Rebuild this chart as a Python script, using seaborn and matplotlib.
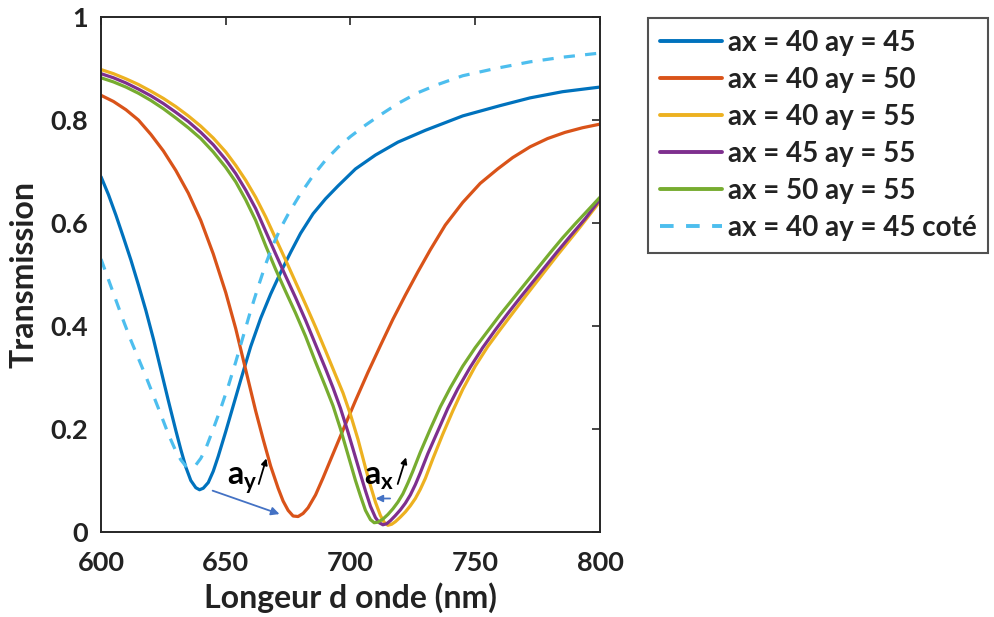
import matplotlib
matplotlib.use("Agg")
import matplotlib.pyplot as plt
import seaborn as sns
import pandas as pd

# ---- data ----
labels = ["ax = 40 ay = 45", "ax = 40 ay = 50", "ax = 40 ay = 55",
          "ax = 45 ay = 55", "ax = 50 ay = 55", "ax = 40 ay = 45 coté"]

wl_4045 = [600, 603, 606, 609, 612, 615, 618, 621, 624, 627, 630, 632, 634, 636, 638, 639.5,
           641, 643, 645, 647, 650, 653, 656, 660, 664, 668, 672, 676, 680, 685, 690, 695,
           702, 710, 719, 730, 745, 760, 772, 785, 800]
t_4045 = [0.69, 0.655, 0.615, 0.572, 0.528, 0.48, 0.43, 0.375, 0.315, 0.255, 0.197, 0.16,
          0.126, 0.1, 0.086, 0.082, 0.085, 0.096, 0.118, 0.147, 0.195, 0.245, 0.295, 0.36,
          0.415, 0.462, 0.504, 0.543, 0.58, 0.618, 0.647, 0.672, 0.705, 0.732, 0.757, 0.78,
          0.808, 0.828, 0.843, 0.855, 0.864]

wl_4050 = [600, 605, 610, 615, 620, 625, 630, 635, 640, 645, 650, 654, 658, 662, 665, 668,
           671, 673, 675, 677, 679, 681, 683, 686, 689, 692, 697, 702, 707, 712, 717, 722,
           727, 732, 738, 745, 752, 759, 765, 772, 779, 786, 793, 800]
t_4050 = [0.848, 0.836, 0.82, 0.80, 0.772, 0.74, 0.702, 0.658, 0.605, 0.54, 0.465, 0.395,
          0.315, 0.235, 0.18, 0.128, 0.085, 0.06, 0.042, 0.031, 0.03, 0.036, 0.047, 0.072,
          0.105, 0.14, 0.198, 0.255, 0.31, 0.362, 0.413, 0.46, 0.505, 0.548, 0.596, 0.64,
          0.677, 0.705, 0.727, 0.748, 0.764, 0.776, 0.785, 0.792]

wl_4055 = [600, 605, 610, 615, 620, 625, 630, 635, 640, 645, 650, 654, 658, 662, 666, 670,
           674, 678, 682, 686, 690, 694, 697, 700, 703, 706, 708, 710, 712, 713.5, 715, 716.5,
           718, 720, 722, 724, 726, 728, 730, 733, 737, 741, 745, 750, 755, 760, 765, 770,
           774, 778, 783, 787, 792, 796, 800]
t_4055 = [0.898, 0.89, 0.88, 0.869, 0.856, 0.842, 0.826, 0.808, 0.788, 0.765, 0.738, 0.712,
          0.683, 0.65, 0.612, 0.57, 0.528, 0.485, 0.442, 0.398, 0.352, 0.305, 0.27, 0.228,
          0.18, 0.125, 0.09, 0.058, 0.032, 0.019, 0.013, 0.015, 0.02, 0.029, 0.039, 0.051,
          0.065, 0.083, 0.104, 0.142, 0.19, 0.235, 0.277, 0.322, 0.36, 0.393, 0.425, 0.457,
          0.482, 0.507, 0.538, 0.562, 0.592, 0.617, 0.642]

wl_4555 = [600, 605, 610, 615, 620, 625, 630, 635, 640, 645, 650, 654, 658, 662, 666, 670,
           674, 678, 682, 686, 690, 693, 696, 699, 702, 704, 706, 708, 710, 711.5, 713, 714.5,
           716, 718, 720, 722, 724, 726, 728, 731, 735, 739, 743, 748, 753, 758, 763, 768,
           773, 778, 783, 788, 794, 800]
t_4555 = [0.89, 0.882, 0.872, 0.86, 0.847, 0.832, 0.815, 0.797, 0.776, 0.752, 0.723, 0.696,
          0.664, 0.628, 0.584, 0.54, 0.497, 0.455, 0.411, 0.364, 0.317, 0.28, 0.24, 0.194,
          0.145, 0.112, 0.08, 0.05, 0.028, 0.018, 0.014, 0.016, 0.022, 0.032, 0.043, 0.056,
          0.072, 0.092, 0.115, 0.152, 0.196, 0.24, 0.278, 0.32, 0.358, 0.392, 0.424, 0.455,
          0.485, 0.515, 0.545, 0.574, 0.608, 0.646]

wl_5055 = [600, 605, 610, 615, 620, 625, 630, 635, 640, 645, 650, 654, 658, 662, 666, 670,
           674, 678, 682, 686, 690, 693, 696, 699, 702, 704, 706, 708, 709.5, 711, 713, 715,
           717, 719, 721, 723, 725, 728, 732, 736, 740, 745, 750, 755, 760, 765, 770, 775,
           780, 785, 790, 795, 800]
t_5055 = [0.882, 0.874, 0.864, 0.852, 0.838, 0.822, 0.804, 0.785, 0.764, 0.738, 0.708, 0.68,
          0.645, 0.605, 0.556, 0.51, 0.467, 0.425, 0.38, 0.33, 0.282, 0.245, 0.2, 0.15, 0.1,
          0.07, 0.042, 0.024, 0.018, 0.019, 0.025, 0.034, 0.045, 0.058, 0.074, 0.095, 0.118,
          0.155, 0.2, 0.243, 0.28, 0.322, 0.358, 0.39, 0.422, 0.452, 0.482, 0.512, 0.542,
          0.571, 0.598, 0.624, 0.65]

wl_cote = [600, 603, 606, 609, 612, 615, 618, 621, 624, 627, 630, 632, 634, 636, 638, 640,
           642, 645, 648, 651, 654, 657, 660, 663, 666, 669, 672, 675, 680, 685, 690, 695,
           700, 706, 712, 719, 727, 735, 745, 758, 772, 785, 800]
t_cote = [0.53, 0.49, 0.45, 0.41, 0.372, 0.337, 0.302, 0.265, 0.228, 0.19, 0.157, 0.14,
          0.128, 0.125, 0.13, 0.143, 0.162, 0.2, 0.24, 0.283, 0.33, 0.38, 0.43, 0.476, 0.52,
          0.558, 0.59, 0.617, 0.657, 0.692, 0.722, 0.747, 0.768, 0.79, 0.81, 0.832, 0.853,
          0.869, 0.886, 0.9, 0.913, 0.922, 0.93]

xticks = [600, 650, 700, 750, 800]
yticks = [0, 0.2, 0.4, 0.6, 0.8, 1]
ytick_labels = ["0", "0.2", "0.4", "0.6", "0.8", "1"]

colors = ["#0072BD", "#D95319", "#EDB120", "#7E2F8E", "#77AC30", "#4DBEEE"]
series = [(wl_4045, t_4045), (wl_4050, t_4050), (wl_4055, t_4055),
          (wl_4555, t_4555), (wl_5055, t_5055), (wl_cote, t_cote)]

sns.set_theme(style="white")
plt.rcParams["font.family"] = ["Lato", "DejaVu Sans"]
plt.rcParams["mathtext.fontset"] = "custom"
plt.rcParams["mathtext.bf"] = "Lato:bold"
plt.rcParams["mathtext.rm"] = "Lato"

txt = "#222222"
fig = plt.figure(figsize=(9.94, 6.17), dpi=100)
ax = fig.add_axes([0.1016, 0.1378, 0.502, 0.8346])

for i, ((wl, t), lab, c) in enumerate(zip(series, labels, colors)):
    df = pd.DataFrame({"wl": wl, "T": t})
    sns.lineplot(data=df, x="wl", y="T", ax=ax, color=c, lw=2.3, label=lab,
                 linestyle="--" if i == 5 else "-", sort=False, estimator=None)
    ln = ax.lines[-1]
    ln.set_solid_joinstyle("round")
    if i == 5:
        ln.set_dashes((3.5, 3.2))

ax.set_xlim(600, 800)
ax.set_ylim(0, 1)
ax.set_xticks(xticks)
ax.set_yticks(yticks)
ax.set_yticklabels(ytick_labels)
ax.tick_params(direction="in", top=True, right=True, length=6, width=1.2,
               colors="#262626", labelcolor=txt, labelsize=19.5)
ax.tick_params(axis="x", pad=14)
ax.tick_params(axis="y", pad=9)
for lbl in ax.get_xticklabels() + ax.get_yticklabels():
    lbl.set_fontweight("bold")
for s in ax.spines.values():
    s.set_color("#262626")
    s.set_linewidth(1.4)
ax.set_xlabel("Longeur d onde (nm)", fontsize=23, fontweight="bold", color=txt, labelpad=5)
ax.set_ylabel("Transmission", fontsize=23, fontweight="bold", color=txt, labelpad=9)

# annotations
ax.text(650.5, 0.092, r"$\mathbf{a}_\mathbf{y}$", fontsize=23, color="black")
ax.annotate("", xy=(666.6, 0.148), xytext=(662.9, 0.088),
            arrowprops=dict(arrowstyle="-|>", color="black", lw=1.3, mutation_scale=9))
ax.annotate("", xy=(672.6, 0.033), xytext=(643.7, 0.082),
            arrowprops=dict(arrowstyle="-|>", color="#4472C4", lw=1.3, mutation_scale=12))
ax.text(705.5, 0.092, r"$\mathbf{a}_\mathbf{x}$", fontsize=23, color="black")
ax.annotate("", xy=(722.6, 0.15), xytext=(718.6, 0.088),
            arrowprops=dict(arrowstyle="-|>", color="black", lw=1.3, mutation_scale=9))
ax.annotate("", xy=(709.0, 0.065), xytext=(717.0, 0.065),
            arrowprops=dict(arrowstyle="-|>", color="#4472C4", lw=1.3, mutation_scale=10))

ax.get_legend().remove()
h, l = ax.get_legend_handles_labels()
leg = fig.legend(h, l, loc="upper left", bbox_to_anchor=(0.652, 0.971),
                 fontsize=20, frameon=True, fancybox=False, handlelength=2.25,
                 handletextpad=0.2, labelspacing=0.4, borderpad=0.42, borderaxespad=0)
leg.get_frame().set_edgecolor("#262626")
leg.get_frame().set_linewidth(1.5)
for t in leg.get_texts():
    t.set_fontweight("bold")
    t.set_color(txt)
for ln in leg.get_lines():
    ln.set_linewidth(2.8)

fig.savefig("out.png", dpi=100)
